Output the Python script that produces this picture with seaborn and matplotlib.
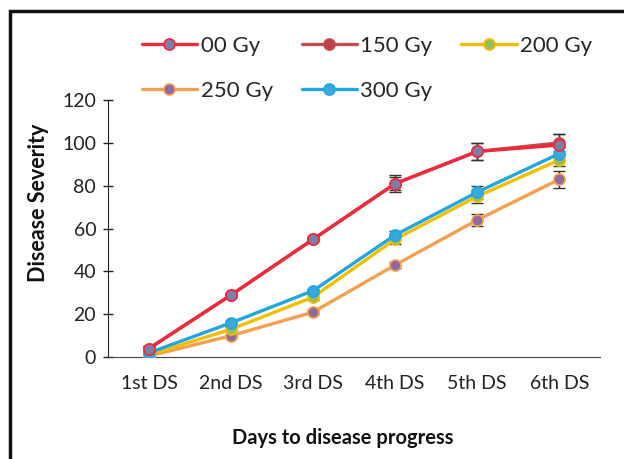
import matplotlib
matplotlib.use("Agg")
import matplotlib.pyplot as plt
import seaborn as sns
import pandas as pd
from matplotlib.patches import Rectangle

# --- data ---
stages = ["1st DS", "2nd DS", "3rd DS", "4th DS", "5th DS", "6th DS"]
doses = ["00 Gy", "150 Gy", "200 Gy", "250 Gy", "300 Gy"]

sev_00 = [4, 29, 55, 81, 96, 99]
sev_150 = [4, 29, 55, 81, 96, 100]
sev_200 = [1, 13, 28, 55, 75, 92]
sev_250 = [0.5, 10, 21, 43, 64, 83]
sev_300 = [2, 16, 31, 57, 77, 95]

err_00 = [1, 1, 1, 4, 4, 5]
err_150 = [1, 1, 1, 3, 4, 4]
err_200 = [0, 1, 1.5, 2, 3, 3]
err_250 = [0, 1, 1, 1.5, 3, 4]
err_300 = [0, 1, 1, 2, 3, 3]

line_colors = ["#EE2A3C", "#C0504D", "#F0C000", "#F5A050", "#22A6E0"]
marker_colors = ["#7A7FA8", "#C0404A", "#9BBB59", "#8E6A9E", "#39A8DA"]

series = [sev_00, sev_150, sev_200, sev_250, sev_300]
errors = [err_00, err_150, err_200, err_250, err_300]

rows = []
for d, vals, errs in zip(doses, series, errors):
    for i, (s, v, e) in enumerate(zip(stages, vals, errs)):
        rows.append({"Dose": d, "Stage": s, "pos": i, "Severity": v, "err": e})
df = pd.DataFrame(rows)

sns.set_style("white")
plt.rcParams["font.family"] = ["Lato", "DejaVu Sans"]

fig = plt.figure(figsize=(6.24, 4.59), dpi=100)
ax = fig.add_axes([0.173, 0.222, 0.789, 0.56])

# draw order: lower series first so the red 00 Gy sits on top
draw_order = ["250 Gy", "200 Gy", "300 Gy", "150 Gy", "00 Gy"]
handles = {}
for z, d in enumerate(draw_order):
    k = doses.index(d)
    sub = df[df["Dose"] == d]
    ax.errorbar(sub["pos"], sub["Severity"], yerr=sub["err"], fmt="none",
                ecolor="#333333", elinewidth=1, capsize=4, zorder=2 + z * 0.1)
    sns.lineplot(data=sub, x="pos", y="Severity", ax=ax, color=line_colors[k],
                 linewidth=2.4, marker="o", markersize=8,
                 markerfacecolor=marker_colors[k], markeredgecolor=line_colors[k],
                 markeredgewidth=1.2, label=d, zorder=3 + z * 0.1)
    handles[d] = ax.get_lines()[-1]

ax.set_xlim(-0.5, 5.5)
ax.set_ylim(0, 120)
ax.set_xticks(range(len(stages)))
ax.set_xticklabels(stages)
ax.set_yticks(range(0, 121, 20))
ax.tick_params(axis="x", length=0, labelsize=14, pad=13, colors="#222222")
ax.tick_params(axis="y", direction="inout", length=7, width=1, labelsize=14,
               pad=5, colors="#222222", left=True)
for side in ["top", "right"]:
    ax.spines[side].set_visible(False)
ax.spines["left"].set_color("#222222")
ax.spines["bottom"].set_color("#444444")

ax.set_xlabel("Days to disease progress", fontsize=14.5, fontweight="bold",
              color="#111111")
ax.set_ylabel("Disease Severity", fontsize=15.5, fontweight="bold",
              color="#111111")
ax.xaxis.set_label_coords(0.476, -0.275)
ax.yaxis.set_label_coords(-0.12, 0.6)

ax.get_legend().remove()
leg_order = ["00 Gy", "250 Gy", "150 Gy", "300 Gy", "200 Gy"]
fig.legend([handles[d] for d in leg_order], leg_order, ncol=3, frameon=False,
           loc="upper left", bbox_to_anchor=(0.195, 0.965), fontsize=16,
           handlelength=2.5, handletextpad=0.15, columnspacing=1.3,
           labelspacing=1.1)

# outer frame as in the reference
fig.patches.append(Rectangle((10 / 624, -0.1), 1.2, 1 - 11 / 459 + 0.1,
                             transform=fig.transFigure, fill=False,
                             edgecolor="#111111", linewidth=2.5))

fig.savefig("out.png", dpi=100)
